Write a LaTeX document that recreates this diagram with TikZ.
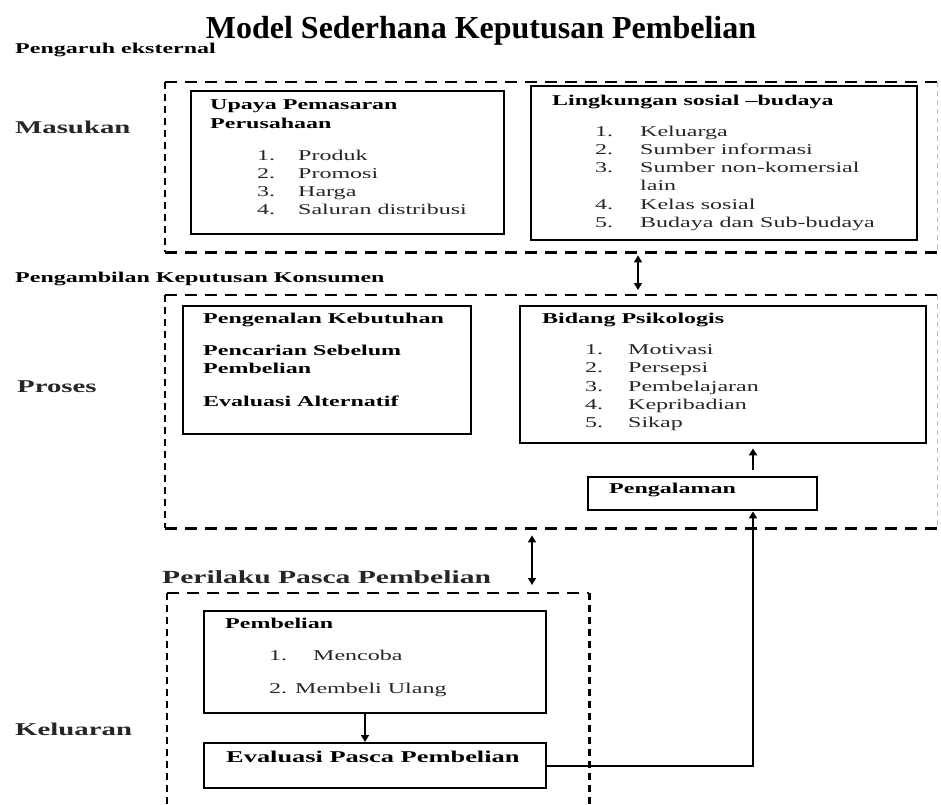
\documentclass[tikz,border=0pt]{standalone}
\usepackage{fontspec}
\setmainfont{Liberation Serif}
\newfontfamily\wide{Liberation Serif}[FakeStretch=1.6]
\usetikzlibrary{arrows.meta}
\begin{document}
\begin{tikzpicture}[x=1pt,y=-1pt,
  solidbox/.style={draw, line width=2.4pt, anchor=north west, inner sep=0pt},
  area/.style={draw=none, anchor=north west, inner sep=0pt},
  hdash/.style={line width=2.4pt, dash pattern=on 12pt off 8pt},
  vdash/.style={line width=2.6pt, dash pattern=on 7pt off 5pt},
  edgedash/.style={line width=0.7pt, gray!55, dash pattern=on 5pt off 4pt},
  txt/.style={anchor=base west, inner sep=0pt, font=\wide\fontsize{15}{18}\selectfont, text=black!85},
  btxt/.style={anchor=base west, inner sep=0pt, font=\wide\bfseries\fontsize{15}{18}\selectfont},
  lbl/.style={anchor=base west, inner sep=0pt, font=\wide\bfseries\fontsize{18}{22}\selectfont, text=black!85},
  tip/.style={line width=1.5pt, -{Triangle[width=8pt,length=7pt]}},
  dbl/.style={line width=1.4pt, {Triangle[width=8pt,length=7pt]}-{Triangle[width=8pt,length=7pt]}},
]
\useasboundingbox (0,0) rectangle (941,804);

% title and side labels
\node[anchor=base, inner sep=0pt, font=\bfseries\fontsize{32}{36}\selectfont] (title) at (481,38) {Model Sederhana Keputusan Pembelian};
\node[btxt] (pengaruh) at (15,53) {Pengaruh eksternal};
\node[lbl] (masukan) at (15,133) {Masukan};
\node[btxt] (pengambilan) at (15,282) {Pengambilan Keputusan Konsumen};
\node[lbl] (proses) at (17,392) {Proses};
\node[lbl, font=\wide\bfseries\fontsize{18.5}{22}\selectfont] (perilaku) at (162,583) {Perilaku Pasca Pembelian};
\node[lbl] (keluaran) at (15,735) {Keluaran};

% dashed areas
\node[area, minimum width=772pt, minimum height=170pt] (area1) at (165,82) {};
\node[area, minimum width=772pt, minimum height=233pt] (area2) at (165,295) {};
\node[area, minimum width=422pt, minimum height=211pt] (area3) at (167,593) {};

\draw[hdash] (area1.north west) -- ([xshift=6pt]area1.north east);
\draw[hdash] (area1.south west) -- ([xshift=6pt]area1.south east);
\draw[vdash] (area1.north west) -- (area1.south west);
\draw[edgedash] (area1.north east) -- (area1.south east);

\draw[hdash] (area2.north west) -- ([xshift=6pt]area2.north east);
\draw[hdash] (area2.south west) -- ([xshift=6pt]area2.south east);
\draw[vdash] (area2.north west) -- (area2.south west);
\draw[edgedash] (area2.north east) -- (area2.south east);

\draw[hdash] (area3.north west) -- (area3.north east);
\draw[vdash] (area3.north west) -- (area3.south west);
\draw[vdash] (area3.north east) -- (area3.south east);

% Upaya Pemasaran Perusahaan
\node[solidbox, minimum width=313pt, minimum height=143pt] (upaya) at (190,90) {};
\node[btxt] (upayaT1) at (210,109) {Upaya Pemasaran};
\node[btxt] (upayaT2) at (210,128) {Perusahaan};
\foreach \n/\t [count=\i] in {1./Produk, 2./Promosi, 3./Harga, 4./Saluran distribusi}{
  \node[txt] (upayaN\i) at (257,142+18*\i) {\n};
  \node[txt] (upayaI\i) at (298,142+18*\i) {\t};
}

% Lingkungan sosial budaya
\node[solidbox, minimum width=386pt, minimum height=154pt] (lingk) at (530,85) {};
\node[btxt] (lingkT) at (552,105) {Lingkungan sosial –budaya};
\node[txt] (lingkN1) at (595,136) {1.};
\node[txt] (lingkI1) at (640,136) {Keluarga};
\node[txt] (lingkN2) at (595,154) {2.};
\node[txt] (lingkI2) at (640,154) {Sumber informasi};
\node[txt] (lingkN3) at (595,172) {3.};
\node[txt] (lingkI3) at (640,172) {Sumber non-komersial};
\node[txt] (lingkI3b) at (640,190) {lain};
\node[txt] (lingkN4) at (595,209) {4.};
\node[txt] (lingkI4) at (640,209) {Kelas sosial};
\node[txt] (lingkN5) at (595,227) {5.};
\node[txt] (lingkI5) at (640,227) {Budaya dan Sub-budaya};

% Proses: Pengenalan
\node[solidbox, minimum width=288pt, minimum height=128pt] (pengenalan) at (182,305) {};
\node[btxt] (pengT1) at (203,323) {Pengenalan Kebutuhan};
\node[btxt] (pengT2) at (203,355) {Pencarian Sebelum};
\node[btxt] (pengT3) at (203,373) {Pembelian};
\node[btxt] (pengT4) at (203,406) {Evaluasi Alternatif};

% Bidang Psikologis
\node[solidbox, minimum width=406pt, minimum height=137pt] (bidang) at (519,305) {};
\node[btxt] (bidangT) at (542,323) {Bidang Psikologis};
\foreach \n/\t [count=\i] in {1./Motivasi, 2./Persepsi, 3./Pembelajaran, 4./Kepribadian, 5./Sikap}{
  \node[txt] (bidangN\i) at (585,336.5+18.2*\i) {\n};
  \node[txt] (bidangI\i) at (628,336.5+18.2*\i) {\t};
}

% Pengalaman
\node[solidbox, minimum width=229pt, minimum height=33pt] (pengalaman) at (587,476) {};
\node[btxt] (pengalamanT) at (609,493) {Pengalaman};

% Pembelian
\node[solidbox, minimum width=342pt, minimum height=102pt] (pembelian) at (203,610) {};
\node[btxt] (pembelianT) at (225,628) {Pembelian};
\node[txt] (pembN1) at (269,660) {1.};
\node[txt] (pembI1) at (313,660) {Mencoba};
\node[txt] (pembI2) at (269,693) {2. Membeli Ulang};

% Evaluasi Pasca Pembelian
\node[solidbox, minimum width=342pt, minimum height=45pt] (evaluasi) at (203,742) {};
\node[btxt, font=\wide\bfseries\fontsize{16.5}{20}\selectfont] (evaluasiT) at (226,762) {Evaluasi Pasca Pembelian};

% connectors
\coordinate (ax1) at (638,0);
\coordinate (ax2) at (532,0);
\coordinate (ax3) at (753,0);
\coordinate (ax4) at (365,0);
\draw[dbl, shorten <=3pt, shorten >=5pt] (ax1 |- area1.south) -- (ax1 |- area2.north);
\draw[dbl, shorten <=7pt, shorten >=8pt] (ax2 |- area2.south) -- (ax2 |- area3.north);
\draw[tip, line width=2pt, shorten <=6pt, shorten >=4pt] (ax3 |- pengalaman.north) -- (ax3 |- bidang.south);
\draw[tip] (ax4 |- pembelian.south) -- (ax4 |- evaluasi.north);
\draw[line width=2pt, -{Triangle[width=8pt,length=7pt]}] (evaluasi.east) -| (ax3 |- pengalaman.south);
\end{tikzpicture}
\end{document}
